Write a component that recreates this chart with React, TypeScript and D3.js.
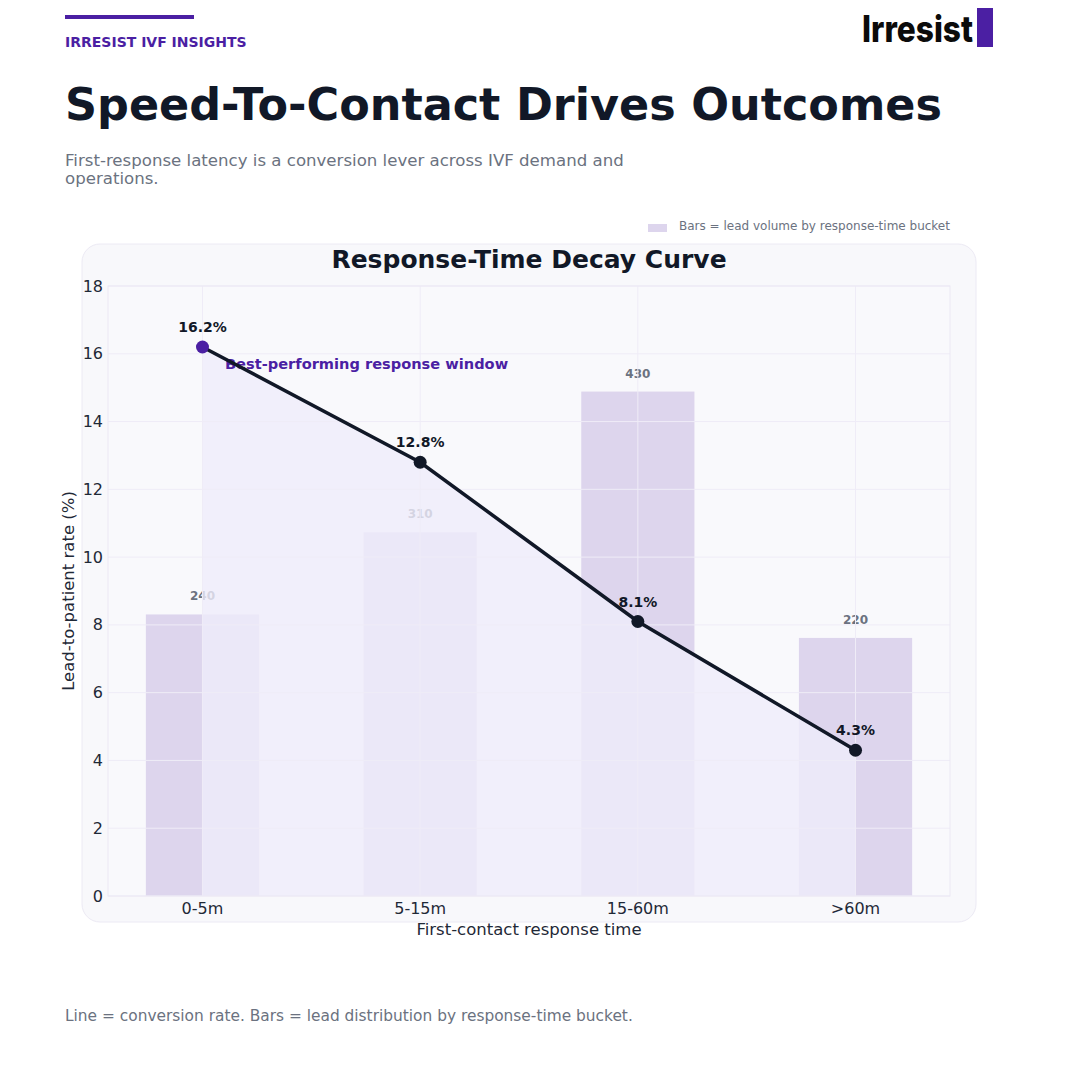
import * as d3 from "d3";

const buckets = ["0-5m", "5-15m", "15-60m", ">60m"];
const conversionRate = [16.2, 12.8, 8.1, 4.3];
const leadVolume = [240, 310, 430, 220];
const rateTicks = [0, 2, 4, 6, 8, 10, 12, 14, 16, 18];

const FONT = "'DejaVu Sans', sans-serif";
const PURPLE = "#4b1fa3";
const INK = "#111827";
const MUTED = "#6b7280";
const BAR = "#ddd5ed";
const GRID = "#efecf7";

export default function App() {
    const W = 1080, H = 1080;
    const plot = {left: 108, right: 950, top: 286, bottom: 896};

    const x = d3.scalePoint<string>()
        .domain(buckets)
        .range([plot.left, plot.right])
        .padding(0.434);
    const y = d3.scaleLinear().domain([0, 18]).range([plot.bottom, plot.top]);
    // bars sit on their own hidden volume axis
    const yVol = d3.scaleLinear().domain([0, 520]).range([plot.bottom, plot.top]);
    const barW = x.step() * 0.52;

    const points = buckets.map((b, i) => ({b, v: conversionRate[i]}));
    const line = d3.line<{b: string, v: number}>().x(d => x(d.b)!).y(d => y(d.v));
    const area = d3.area<{b: string, v: number}>().x(d => x(d.b)!).y0(y(0)).y1(d => y(d.v));

    return (
        <svg width={W} height={H} viewBox={`0 0 ${W} ${H}`}
             style={{display: "block", position: "absolute", left: 0, top: 0, background: "#fff"}}>
            {/* header */}
            <rect x={65} y={15} width={129} height={4} fill={PURPLE}/>
            <text x={65} y={47} fontFamily={FONT} fontWeight="bold" fontSize={14} fill={PURPLE}>
                IRRESIST IVF INSIGHTS
            </text>
            <text x={862} y={42} fontFamily="Inter, 'Liberation Sans', sans-serif" fontWeight={800}
                  fontSize={37} textLength={111} lengthAdjust="spacingAndGlyphs" fill="#0b0b0b">Irresist</text>
            <rect x={977} y={8} width={16} height={39} fill={PURPLE}/>

            <text x={65} y={120} fontFamily={FONT} fontWeight="bold" fontSize={44.5} fill={INK}>
                Speed-To-Contact Drives Outcomes
            </text>
            <text fontFamily={FONT} fontSize={16.6} fill={MUTED}>
                <tspan x={65} y={166}>First-response latency is a conversion lever across IVF demand and</tspan>
                <tspan x={65} y={184}>operations.</tspan>
            </text>

            {/* legend */}
            <rect x={648} y={224} width={19} height={8} fill={BAR}/>
            <text x={679} y={230} fontFamily={FONT} fontSize={12} fill={MUTED}>
                Bars = lead volume by response-time bucket
            </text>

            {/* card */}
            <rect x={82} y={244} width={894} height={678} rx={18} fill="#f8f8fb" stroke="#eceaf4"/>
            <text x={529} y={268} textAnchor="middle" fontFamily={FONT} fontWeight="bold" fontSize={25} fill={INK}>
                Response-Time Decay Curve
            </text>

            <rect x={plot.left} y={plot.top} width={plot.right - plot.left} height={plot.bottom - plot.top}
                  fill="#f9f9fc"/>

            {/* volume bars */}
            {buckets.map((b, i) => (
                <g key={b}>
                    <rect x={x(b)! - barW / 2} y={yVol(leadVolume[i])} width={barW}
                          height={plot.bottom - yVol(leadVolume[i])} fill={BAR}/>
                    <text x={x(b)} y={yVol(leadVolume[i]) - 14} textAnchor="middle" fontFamily={FONT}
                          fontWeight="bold" fontSize={12} fill={MUTED}>{leadVolume[i]}</text>
                </g>
            ))}

            <path d={area(points)!} fill="#efecfa" fillOpacity={0.8}/>

            {/* grid */}
            {rateTicks.map(t => (
                <line key={t} x1={plot.left} x2={plot.right} y1={y(t)} y2={y(t)} stroke={GRID}/>
            ))}
            {buckets.map(b => (
                <line key={b} x1={x(b)} x2={x(b)} y1={plot.top} y2={plot.bottom} stroke={GRID}/>
            ))}
            <rect x={plot.left} y={plot.top} width={plot.right - plot.left} height={plot.bottom - plot.top}
                  fill="none" stroke="#ebe8f4"/>

            <text x={225} y={369} fontFamily={FONT} fontWeight="bold" fontSize={14.6} fill={PURPLE}>
                Best-performing response window
            </text>

            <path d={line(points)!} fill="none" stroke={INK} strokeWidth={3.5}/>
            {points.map((p, i) => (
                <g key={p.b}>
                    <circle cx={x(p.b)} cy={y(p.v)} r={6.5} fill={i === 0 ? PURPLE : INK}/>
                    <text x={x(p.b)} y={y(p.v) - 15} textAnchor="middle" fontFamily={FONT}
                          fontWeight="bold" fontSize={14} fill={INK}>{p.v.toFixed(1)}%</text>
                </g>
            ))}

            {/* axes */}
            {rateTicks.map(t => (
                <text key={t} x={103} y={y(t)} dy="0.35em" textAnchor="end" fontFamily={FONT}
                      fontSize={16} fill="#1f2937">{t}</text>
            ))}
            {buckets.map(b => (
                <text key={b} x={x(b)} y={914} textAnchor="middle" fontFamily={FONT}
                      fontSize={16} fill="#1f2937">{b}</text>
            ))}
            <text x={529} y={935} textAnchor="middle" fontFamily={FONT} fontSize={16.5} fill="#1f2937">
                First-contact response time
            </text>
            <text transform={`translate(74,${(plot.top + plot.bottom) / 2}) rotate(-90)`} textAnchor="middle"
                  fontFamily={FONT} fontSize={16.5} fill="#1f2937">Lead-to-patient rate (%)</text>

            <text x={65} y={1021} fontFamily={FONT} fontSize={15.4} fill={MUTED}>
                Line = conversion rate. Bars = lead distribution by response-time bucket.
            </text>
        </svg>
    );
}
